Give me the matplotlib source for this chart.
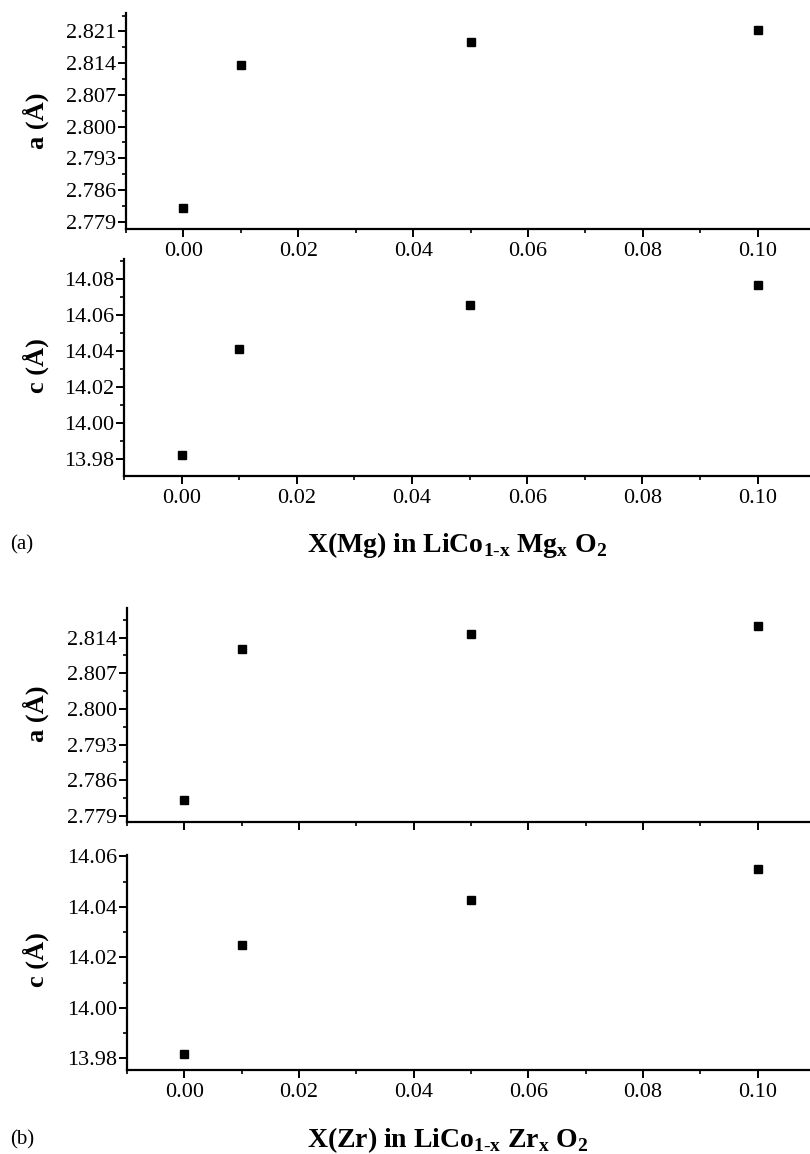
import numpy as np
import matplotlib
matplotlib.use("Agg")
import matplotlib.pyplot as plt
from matplotlib.ticker import MultipleLocator, FormatStrFormatter

plt.rcParams['font.family'] = ['Liberation Serif', 'DejaVu Serif']
plt.rcParams['mathtext.fontset'] = 'custom'
plt.rcParams['mathtext.rm'] = 'Liberation Serif'
plt.rcParams['mathtext.bf'] = 'Liberation Serif:bold'

# dopant fraction x
x_vals = [0.00, 0.01, 0.05, 0.10]

# lattice parameters (Angstrom), Mg-doped
a_mg = [2.7821, 2.8136, 2.8186, 2.8214]
c_mg = [13.9819, 14.0410, 14.0657, 14.0768]

# lattice parameters (Angstrom), Zr-doped
a_zr = [2.7821, 2.8117, 2.8146, 2.8163]
c_zr = [13.9816, 14.0249, 14.0425, 14.0551]

a_ticks_mg = [2.779, 2.786, 2.793, 2.800, 2.807, 2.814, 2.821]
c_ticks_mg = [13.98, 14.00, 14.02, 14.04, 14.06, 14.08]
a_ticks_zr = [2.779, 2.786, 2.793, 2.800, 2.807, 2.814]
c_ticks_zr = [13.98, 14.00, 14.02, 14.04, 14.06]
x_ticks = [0.00, 0.02, 0.04, 0.06, 0.08, 0.10]

W, H = 810, 1154
fig = plt.figure(figsize=(W / 100, H / 100), dpi=100)


def make_axes(px_left, px_top, px_bottom):
    return fig.add_axes([px_left / W, 1 - px_bottom / H, 1 - px_left / W,
                         (px_bottom - px_top) / H])


def style(ax, y, yticks, ylim, yminor, fmt, xlabels=True):
    ax.plot(x_vals, y, 's', color='black', markersize=6)
    ax.set_xlim(-0.01, 0.1091)
    ax.set_ylim(*ylim)
    ax.set_xticks(x_ticks)
    ax.xaxis.set_major_formatter(FormatStrFormatter('%.2f'))
    ax.xaxis.set_minor_locator(MultipleLocator(0.01))
    ax.set_yticks(yticks)
    ax.yaxis.set_major_formatter(FormatStrFormatter(fmt))
    ax.yaxis.set_minor_locator(MultipleLocator(yminor))
    for side in ['top', 'right']:
        ax.spines[side].set_visible(False)
    for side in ['left', 'bottom']:
        ax.spines[side].set_linewidth(1.6)
    ax.tick_params(which='major', direction='out', length=5.5, width=1.4,
                   labelsize=16)
    ax.tick_params(which='minor', direction='out', length=3, width=1.2)
    ax.tick_params(axis='x', pad=4)
    ax.tick_params(axis='y', pad=1.5)
    if not xlabels:
        ax.tick_params(axis='x', labelbottom=False)


ax1 = make_axes(126, 13, 229)
style(ax1, a_mg, a_ticks_mg, (2.77736, 2.82508), 0.0035, '%.3f')

ax2 = make_axes(124, 259, 476)
style(ax2, c_mg, c_ticks_mg, (13.9704, 14.0911), 0.01, '%.2f')

ax3 = make_axes(127, 608, 822)
style(ax3, a_zr, a_ticks_zr, (2.7778, 2.8198), 0.0035, '%.3f', xlabels=False)

ax4 = make_axes(127, 855, 1070)
style(ax4, c_zr, c_ticks_zr, (13.9754, 14.0605), 0.01, '%.2f')

# y axis titles
for ycen, label in [(121, 'a (Å)'), (366, 'c (Å)'), (714, 'a (Å)'), (960, 'c (Å)')]:
    fig.text(36 / W, 1 - ycen / H, label, rotation=90, ha='center',
             va='center', fontsize=19, fontweight='bold')

# x axis titles and panel tags
fig.text(457 / W, 1 - 551.7 / H,
         r'X(Mg) in LiCo$_{\mathbf{1\text{-}x}}$ Mg$_{\mathbf{x}}$ O$_{\mathbf{2}}$',
         ha='center', va='baseline', fontsize=20, fontweight='bold')
fig.text(10 / W, 1 - 549 / H, '(a)', ha='left', va='baseline', fontsize=15)

fig.text(448 / W, 1 - 1146.7 / H,
         r'X(Zr) in LiCo$_{\mathbf{1\text{-}x}}$ Zr$_{\mathbf{x}}$ O$_{\mathbf{2}}$',
         ha='center', va='baseline', fontsize=20, fontweight='bold')
fig.text(10 / W, 1 - 1144 / H, '(b)', ha='left', va='baseline', fontsize=15)

fig.savefig('out.png', dpi=100)
